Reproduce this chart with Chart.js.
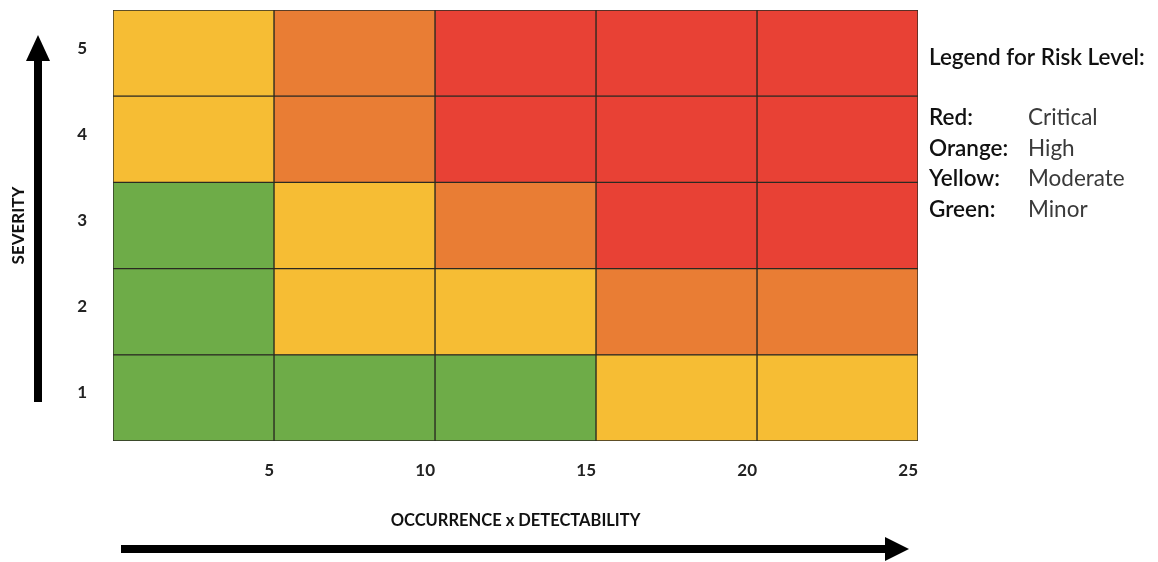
<!DOCTYPE html>
<html>
<head>
<meta charset="utf-8">
<script src="https://cdn.jsdelivr.net/npm/chart.js@4"></script>
<style>
  html, body { margin: 0; padding: 0; background: #fff; }
  #wrap { width: 1158px; height: 562px; }
</style>
</head>
<body>
<div id="wrap"><canvas id="riskChart" width="1158" height="562"></canvas></div>
<script>
// risk matrix data
const severityLabels = ['5', '4', '3', '2', '1'];
const scoreEdges = [0, 5, 10, 15, 20, 25];
const riskGrid = [
    ['Moderate', 'High', 'Critical', 'Critical', 'Critical'],
    ['Moderate', 'High', 'Critical', 'Critical', 'Critical'],
    ['Minor', 'Moderate', 'High', 'Critical', 'Critical'],
    ['Minor', 'Moderate', 'Moderate', 'High', 'High'],
    ['Minor', 'Minor', 'Minor', 'Moderate', 'Moderate']
];
const legendNames = ['Red:', 'Orange:', 'Yellow:', 'Green:'];
const legendLevels = ['Critical', 'High', 'Moderate', 'Minor'];

const riskColors = {
    Critical: '#E84135',
    High: '#E97D34',
    Moderate: '#F6BD34',
    Minor: '#6EAC48'
};

// one dataset per score column, each bar spans one cell
const datasets = [];
for (let c = 0; c < scoreEdges.length - 1; c++) {
    datasets.push({
        label: 'col' + c,
        data: severityLabels.map(() => [scoreEdges[c], scoreEdges[c + 1]]),
        backgroundColor: riskGrid.map(row => riskColors[row[c]]),
        borderColor: '#2b2a22',
        borderWidth: 1,
        borderSkipped: false,
        grouped: false,
        barPercentage: 1,
        categoryPercentage: 1
    });
}

// arrows and the legend text
const decorations = {
    id: 'decorations',
    afterDraw(chart) {
        const ctx = chart.ctx;
        ctx.save();
        ctx.fillStyle = '#000';

        // vertical arrow (severity)
        ctx.fillRect(34, 58, 8, 344);
        ctx.beginPath();
        ctx.moveTo(38, 35);
        ctx.lineTo(50, 61);
        ctx.lineTo(26, 61);
        ctx.closePath();
        ctx.fill();

        // horizontal arrow (occurrence x detectability)
        ctx.fillRect(121, 545, 768, 8);
        ctx.beginPath();
        ctx.moveTo(909, 549);
        ctx.lineTo(885, 537);
        ctx.lineTo(885, 561);
        ctx.closePath();
        ctx.fill();

        // legend
        ctx.textBaseline = 'alphabetic';
        ctx.textAlign = 'left';
        ctx.fillStyle = '#111';
        ctx.font = '600 22.5px Lato, sans-serif';
        ctx.fillText('Legend for Risk Level:', 929, 65);
        legendNames.forEach((name, i) => {
            const y = 125 + i * 30.5;
            ctx.fillStyle = '#111';
            ctx.font = '600 22.5px Lato, sans-serif';
            ctx.fillText(name, 929, y);
            ctx.fillStyle = '#3a3a3a';
            ctx.font = '400 22.5px Lato, sans-serif';
            ctx.fillText(legendLevels[i], 1028, y);
        });
        ctx.restore();
    }
};

new Chart(document.getElementById('riskChart'), {
    type: 'bar',
    data: {
        labels: severityLabels,
        datasets: datasets
    },
    plugins: [decorations],
    options: {
        indexAxis: 'y',
        responsive: false,
        devicePixelRatio: 1,
        animation: false,
        layout: {
            padding: { left: 0, top: 10, right: 240, bottom: 0 }
        },
        plugins: {
            legend: { display: false },
            tooltip: { enabled: false }
        },
        scales: {
            x: {
                type: 'linear',
                min: 0,
                max: 25,
                grid: { display: false, drawTicks: false },
                border: { display: false },
                ticks: {
                    stepSize: 5,
                    align: 'end',
                    padding: 19,
                    color: '#222',
                    font: { family: 'Lato', size: 17, weight: 'bold' },
                    callback: v => (v === 0 ? '' : v)
                },
                title: {
                    display: true,
                    text: 'OCCURRENCE x DETECTABILITY',
                    color: '#111',
                    font: { family: 'Lato', size: 16.5, weight: 'bold' },
                    padding: { top: 4, bottom: 31 }
                },
                afterFit: scale => { scale.height = 121; }
            },
            y: {
                type: 'category',
                grid: { display: false, drawTicks: false },
                border: { display: false },
                ticks: {
                    padding: 26,
                    labelOffset: -5,
                    color: '#222',
                    font: { family: 'Lato', size: 17, weight: 'bold' }
                },
                title: {
                    display: true,
                    text: 'SEVERITY',
                    color: '#111',
                    font: { family: 'Lato', size: 17, weight: 'bold' },
                    padding: { top: 8, bottom: 0 }
                },
                afterFit: scale => {
                    scale.width = 113;
                    scale.paddingTop = 0;
                    scale.paddingBottom = 0;
                }
            }
        }
    }
});
</script>
</body>
</html>
